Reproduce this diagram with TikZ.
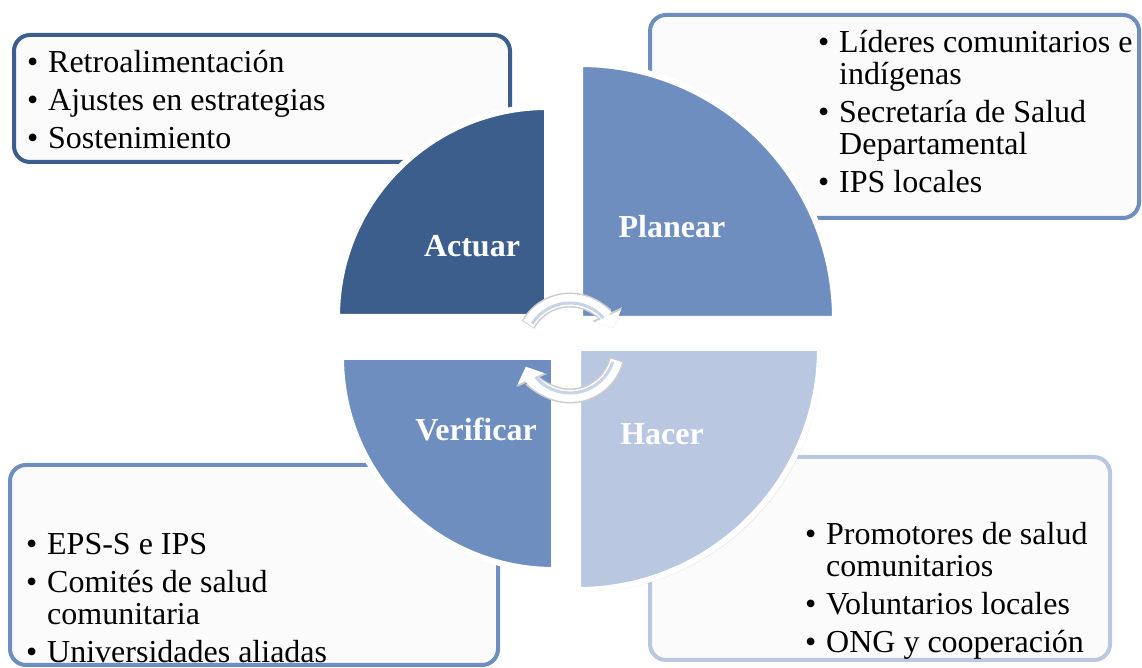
\documentclass[tikz,border=0pt]{standalone}
\usepackage{fontspec}
\setmainfont{Liberation Serif}
\usepackage{tikz}
\usetikzlibrary{arrows.meta,shadows}
\definecolor{pdcadark}{HTML}{3B5E8C}
\definecolor{pdcamid}{HTML}{6D8EBF}
\definecolor{pdcalight}{HTML}{B9C7E0}
\definecolor{pdcastripe}{HTML}{C6D3E8}
\definecolor{boxfill}{HTML}{FBFBFB}
\tikzstyle{infobox} = [rounded corners=16pt, line width=4pt, fill=boxfill]
\tikzstyle{quarter} = [draw=white, line width=6pt,
    drop shadow={shadow xshift=2.5pt, shadow yshift=-2.5pt, opacity=0.22}]
\tikzstyle{phase} = [text=white, font=\fontsize{32}{36}\selectfont\bfseries, anchor=base, inner sep=0pt]
\tikzstyle{bullets} = [font=\fontsize{32}{32}\selectfont, text width=330pt, align=flush left,
    anchor=base west, inner sep=0pt]
\tikzstyle{cycleedge} = [black!20, line width=15pt, -{Triangle[length=15pt, width=32pt]}]
\tikzstyle{cyclearrow} = [white, line width=12pt, -{Triangle[length=13pt, width=28pt]}]
\tikzstyle{stripe} = [pdcastripe, line width=3pt]
\newcommand{\itemsetup}{\setlength{\parskip}{6pt}}
\newcommand{\itembul}[1]{\hangindent=21pt\hangafter=1\noindent\hbox to 21pt{\textbullet\hfil}#1\par}

\begin{document}
\begin{tikzpicture}[x=1pt, y=1pt]
\useasboundingbox (0,0) rectangle (1142,668);
% boxes behind the circle
\draw[infobox, draw=pdcadark] (14,506) rectangle (510,633);
\draw[infobox, draw=pdcamid] (650,450) rectangle (1139,653);
\draw[infobox, draw=pdcamid] (10,3) rectangle (498,203);
\draw[infobox, draw=pdcalight] (650,8) rectangle (1110,211);
\node[bullets] (actuarlist) at (27,595) {\itemsetup
  \itembul{Retroalimentación}
  \itembul{Ajustes en estrategias}
  \itembul{Sostenimiento}};
\node[bullets] (planearlist) at (818,615) {\itemsetup
  \itembul{Líderes comunitarios e\newline indígenas}
  \itembul{Secretaría de Salud\newline Departamental}
  \itembul{IPS locales}};
\node[bullets] (verificarlist) at (26,113) {\itemsetup
  \itembul{EPS-S e IPS}
  \itembul{Comités de salud\newline comunitaria}
  \itembul{Universidades aliadas}};
\node[bullets] (hacerlist) at (805,123) {\itemsetup
  \itembul{Promotores de salud\newline comunitarios}
  \itembul{Voluntarios locales}
  \itembul{ONG y cooperación}};
% quarter circles
\filldraw[quarter, fill=pdcadark] (547,351) -- ++(-210,0) arc[start angle=180, end angle=90, radius=210pt] -- cycle;
\filldraw[quarter, fill=pdcamid] (580,349) -- ++(255,0) arc[start angle=0, end angle=90, radius=255pt] -- cycle;
\filldraw[quarter, fill=pdcamid] (554,311) -- ++(-213,0) arc[start angle=180, end angle=270, radius=213pt] -- cycle;
\filldraw[quarter, fill=pdcalight] (578,320) -- ++(242,0) arc[start angle=0, end angle=-90, radius=242pt] -- cycle;
\node[phase] (actuar) at (472,411) {Actuar};
\node[phase] (planear) at (672,430) {Planear};
\node[phase] (verificar) at (476,227) {Verificar};
\node[phase] (hacer) at (662,223) {Hacer};
% cycle arrows
\draw[cycleedge] (570,320) ++(151:48) arc[start angle=151, end angle=25, radius=48pt];
\draw[cyclearrow] (570,320) ++(150:48) arc[start angle=150, end angle=25, radius=48pt];
\draw[stripe] (570,320) ++(147:45) arc[start angle=147, end angle=42, radius=45pt];
\draw[cycleedge] (570,320) ++(-14:48) arc[start angle=-14, end angle=-157, radius=48pt];
\draw[cyclearrow] (570,320) ++(-15:48) arc[start angle=-15, end angle=-157, radius=48pt];
\draw[stripe] (570,320) ++(-18:45) arc[start angle=-18, end angle=-140, radius=45pt];
\end{tikzpicture}
\end{document}
